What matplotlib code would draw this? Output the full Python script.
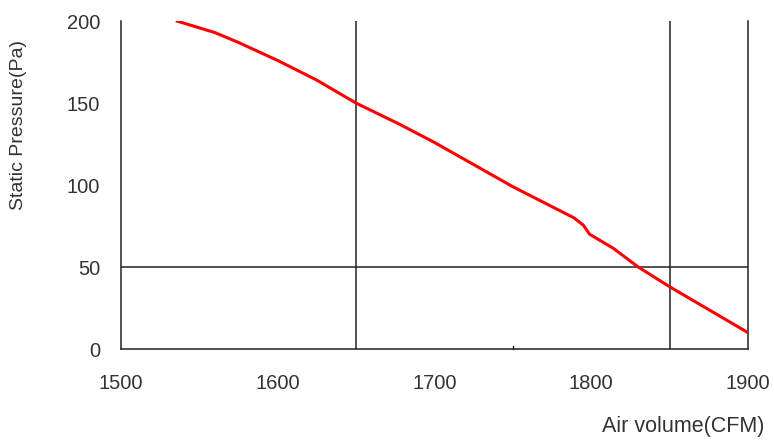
import matplotlib
matplotlib.use("Agg")
import matplotlib.pyplot as plt

# fan curve
air_volume = [1536, 1560, 1575, 1600, 1625, 1650, 1678, 1700, 1750, 1789, 1795, 1799,
              1814, 1830, 1850, 1875, 1900]
static_pressure = [200, 193, 187, 176, 164, 150, 137, 126, 99, 80, 75.5, 70,
                   61.5, 50, 38, 24, 10]

x_ticks = [1500, 1600, 1700, 1800, 1900]
y_ticks = [0, 50, 100, 150, 200]
y_tick_labels = ["0", "50", "100", "150", "200"]
guide_x = [1650, 1850]
guide_y = [50]

plt.rcParams["font.family"] = ["Liberation Sans", "DejaVu Sans"]

fig = plt.figure(figsize=(7.74, 4.41), dpi=100)
ax = fig.add_axes([0.1563, 0.2086, 0.8101, 0.7434])

ax.plot(air_volume, static_pressure, color="#ff0000", linewidth=2.2, zorder=3)

for gx in guide_x:
    ax.axvline(gx, color="#222222", linewidth=1.1, zorder=2)
for gy in guide_y:
    ax.axhline(gy, color="#222222", linewidth=1.1, zorder=2)

ax.set_xlim(1500, 1900)
ax.set_ylim(0, 200)
ax.set_xticks(x_ticks)
ax.set_yticks(y_ticks)
ax.set_yticklabels(y_tick_labels)
ax.tick_params(axis="both", length=0, labelsize=14.5, colors="#333333")
ax.tick_params(axis="x", pad=18)
ax.tick_params(axis="y", pad=15)

ax.spines["top"].set_visible(False)
for s in ["left", "bottom", "right"]:
    ax.spines[s].set_color("#222222")
    ax.spines[s].set_linewidth(1.1)

# little tick at the middle of the bottom axis
ax.plot([1750, 1750], [0, 2], color="#222222", linewidth=1.0, clip_on=False)

fig.text(0.024, 0.717, "Static Pressure(Pa)", rotation=90, ha="center", va="center",
         fontsize=14, color="#333333")
fig.text(0.988, 0.032, "Air volume(CFM)", ha="right", va="center",
         fontsize=15.5, color="#333333")

fig.savefig("out.png", dpi=100)
